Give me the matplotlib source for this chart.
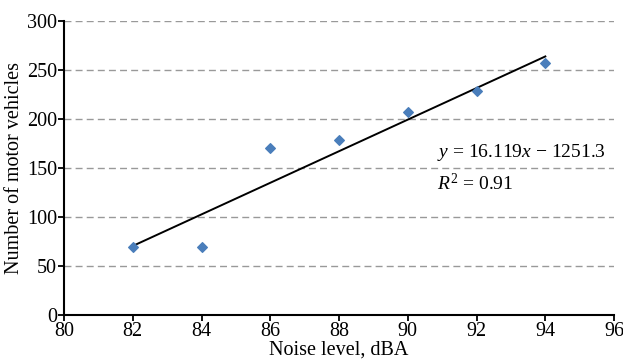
import numpy as np
import matplotlib
matplotlib.use('Agg')
import matplotlib.pyplot as plt

noise_dba = [82, 84, 86, 88, 90, 92, 94]
vehicles = [69, 69, 170, 179, 207, 229, 257]

# Excel trendline reported on the chart
slope = 16.119
intercept = -1251.3
r_squared = 0.91

plt.rcParams['font.family'] = ['Liberation Serif', 'DejaVu Serif']
plt.rcParams['mathtext.fontset'] = 'custom'
plt.rcParams['mathtext.it'] = 'Liberation Serif:italic'
plt.rcParams['mathtext.rm'] = 'Liberation Serif'

fig = plt.figure(figsize=(6.23, 3.63), dpi=100)
ax = fig.add_axes([0.1027, 0.1322, 0.883, 0.8098])

for y in range(50, 301, 50):
    ax.axhline(y, color='#999999', lw=1.0, ls=(0, (5, 3)), zorder=0)

fit_x = np.array([min(noise_dba), max(noise_dba)])
ax.plot(fit_x, slope * fit_x + intercept, color='black', lw=1.4, zorder=2)
ax.scatter(noise_dba, vehicles, marker='D', s=24, color='#4A7EBB', zorder=3)

ax.set_xlim(80, 96)
ax.set_ylim(0, 300)
ax.set_xticks(range(80, 97, 2))
ax.set_yticks(range(0, 301, 50))
ax.tick_params(labelsize=14.5, direction='out', length=4, width=1.3, pad=1)
for s in ['top', 'right']:
    ax.spines[s].set_visible(False)
for s in ['left', 'bottom']:
    ax.spines[s].set_linewidth(1.5)

ax.set_xlabel('Noise level, dBA', fontsize=14.5, labelpad=0)
ax.set_ylabel('Number of motor vehicles', fontsize=14.5, labelpad=2)

ax.text(90.85, 166, r'$y$ = 16.119$x$ $-$ 1251.3', fontsize=14, va='center')
ax.text(90.85, 134, rf'$R^2$ = {r_squared:.2f}', fontsize=14, va='center')

fig.savefig('out.png', dpi=100)
